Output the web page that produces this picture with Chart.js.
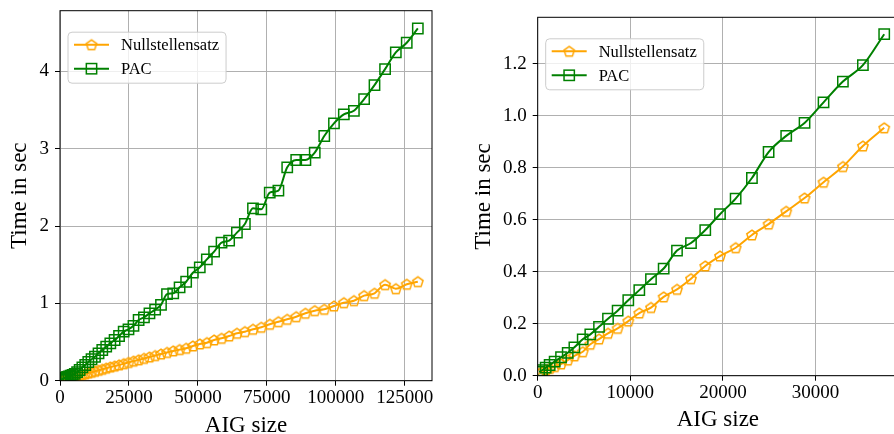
<!DOCTYPE html>
<html>
<head>
<meta charset="utf-8">
<script src="https://cdn.jsdelivr.net/npm/chart.js@4.4.1/dist/chart.umd.min.js"></script>
<style>
  html, body { margin: 0; padding: 0; background: #fff; width: 894px; height: 434px; overflow: hidden; position: relative; }
  canvas { position: absolute; top: -10px; }
  #left { left: 0; }
  #right { left: 447px; }
</style>
</head>
<body>
<canvas id="left" width="447" height="470"></canvas>
<canvas id="right" width="470" height="470"></canvas>
<script>
// --- DATA: left panel (all benchmarks) ---
const leftSizes = [127, 285, 507, 792, 1140, 1552, 2028, 2566, 3168, 3833, 4562, 5354, 6209, 7128, 8110, 9156,
  10264, 11436, 12672, 13971, 15333, 16759, 18248, 19800, 21416, 23095, 24837, 26643, 28512, 30444, 32440, 34499,
  36622, 38808, 41057, 43370, 45746, 48185, 50688, 53254, 55884, 58577, 61332, 64152, 67035, 69981, 72990, 76064,
  79200, 82400, 85663, 88989, 92379, 95832, 99348, 102928, 106572, 110278, 114048, 117881, 121778, 125738, 129761];
const leftNull = [0.002, 0.003, 0.005, 0.008, 0.011, 0.015, 0.020, 0.025, 0.030, 0.037, 0.044, 0.052, 0.060, 0.069, 0.078, 0.088,
  0.099, 0.110, 0.122, 0.135, 0.148, 0.162, 0.177, 0.189, 0.204, 0.220, 0.236, 0.253, 0.270, 0.288, 0.306, 0.325,
  0.345, 0.365, 0.385, 0.402, 0.419, 0.449, 0.475, 0.492, 0.527, 0.548, 0.578, 0.613, 0.634, 0.665, 0.691, 0.730,
  0.763, 0.794, 0.828, 0.872, 0.906, 0.923, 0.966, 1.009, 1.035, 1.100, 1.131, 1.242, 1.190, 1.247, 1.281];
const leftPac = [0.010, 0.012, 0.016, 0.020, 0.026, 0.033, 0.040, 0.048, 0.056, 0.066, 0.076, 0.088, 0.112, 0.138, 0.173, 0.203,
  0.242, 0.277, 0.310, 0.354, 0.397, 0.440, 0.483, 0.526, 0.578, 0.634, 0.665, 0.710, 0.785, 0.820, 0.870, 0.920,
  0.980, 1.120, 1.130, 1.208, 1.280, 1.397, 1.467, 1.570, 1.669, 1.785, 1.811, 1.915, 2.027, 2.230, 2.217, 2.432,
  2.458, 2.760, 2.855, 2.855, 2.950, 3.165, 3.328, 3.444, 3.491, 3.642, 3.823, 4.030, 4.246, 4.371, 4.556];
const leftXTicks = [0, 25000, 50000, 75000, 100000, 125000];
const leftYTicks = [0, 1, 2, 3, 4];

// --- DATA: right panel ---
const rightSizes = [150, 470, 860, 1290, 1830, 2520, 3240, 3960, 4860, 5680, 6620, 7590, 8630, 9780, 10970,
  12230, 13600, 15040, 16550, 18090, 19680, 21370, 23130, 24930, 26830, 28810, 30860, 32950, 35110, 37410];
const rightNull = [0.008, 0.015, 0.022, 0.028, 0.035, 0.045, 0.060, 0.076, 0.092, 0.121, 0.141, 0.163, 0.182, 0.210, 0.241,
  0.262, 0.303, 0.332, 0.373, 0.422, 0.460, 0.492, 0.541, 0.583, 0.632, 0.683, 0.744, 0.804, 0.883, 0.953];
const rightPac = [0.015, 0.021, 0.031, 0.041, 0.054, 0.071, 0.088, 0.109, 0.140, 0.159, 0.188, 0.219, 0.250, 0.290, 0.329,
  0.371, 0.412, 0.481, 0.510, 0.560, 0.621, 0.681, 0.760, 0.860, 0.922, 0.972, 1.051, 1.131, 1.194, 1.313];
const rightXTicks = [0, 10000, 20000, 30000];
const rightYTicks = [0, 0.2, 0.4, 0.6, 0.8, 1.0, 1.2];

const FONT = "'Liberation Serif', 'Times New Roman', serif";
const ORANGE = '#ffa500', GREEN = '#008000';

// hollow pentagon marker (no built-in pentagon in chart.js)
function pentagon(color) {
  const c = document.createElement('canvas');
  c.width = 16; c.height = 16;
  const g = c.getContext('2d');
  g.strokeStyle = color; g.lineWidth = 1.5;
  g.beginPath();
  for (let k = 0; k < 5; k++) {
    const a = -Math.PI / 2 + k * 2 * Math.PI / 5;
    const px = 8 + 5.4 * Math.cos(a), py = 8.5 + 5.4 * Math.sin(a);
    k ? g.lineTo(px, py) : g.moveTo(px, py);
  }
  g.closePath(); g.stroke();
  return c;
}
const pent = pentagon(ORANGE);

// axes frame + matplotlib-like legend box
const frameLegend = {
  id: 'frameLegend',
  afterDatasetsDraw(chart, args, opts) {
    const ctx = chart.ctx, ca = chart.chartArea;
    ctx.save();
    ctx.strokeStyle = '#000'; ctx.lineWidth = 1;
    ctx.strokeRect(ca.left, ca.top, ca.right - ca.left, ca.bottom - ca.top);

    ctx.font = opts.size + 'px ' + FONT;
    const sets = chart.data.datasets;
    const tw = Math.max(...sets.map(d => ctx.measureText(d.label).width));
    const bx = ca.left + 8, by = ca.top + 21.5, bw = 53 + tw + 7, bh = 51;
    ctx.beginPath();
    ctx.roundRect(bx, by, bw, bh, 4);
    ctx.fillStyle = 'rgba(255,255,255,0.8)'; ctx.fill();
    ctx.strokeStyle = '#cccccc'; ctx.lineWidth = 1; ctx.stroke();

    sets.forEach((d, i) => {
      const cy = by + 12.5 + i * 24;
      ctx.strokeStyle = d.borderColor; ctx.lineWidth = 2;
      ctx.beginPath(); ctx.moveTo(bx + 6, cy); ctx.lineTo(bx + 41, cy); ctx.stroke();
      const mx = bx + 23.5;
      if (d.pointStyle === 'rect') {
        const s = d.pointRadius * Math.SQRT1_2;
        ctx.lineWidth = d.pointBorderWidth;
        ctx.strokeRect(mx - s, cy - s, 2 * s, 2 * s);
      } else {
        ctx.drawImage(d.pointStyle, mx - 8, cy - 8);
      }
      ctx.fillStyle = '#000'; ctx.textBaseline = 'middle'; ctx.textAlign = 'left';
      ctx.fillText(d.label, bx + 53, cy + 1);
    });
    ctx.restore();
  }
};

function makeDatasets(xs, nul, pac) {
  return [
    { label: 'Nullstellensatz', data: xs.map((x, i) => ({ x, y: nul[i] })),
      borderColor: ORANGE, borderWidth: 2, pointStyle: pent, pointRadius: 5,
      pointBackgroundColor: 'rgba(0,0,0,0)', cubicInterpolationMode: 'monotone', order: 2 },
    { label: 'PAC', data: xs.map((x, i) => ({ x, y: pac[i] })),
      borderColor: GREEN, borderWidth: 2, pointStyle: 'rect', pointRadius: 7.3, pointBorderWidth: 1.5,
      pointBackgroundColor: 'rgba(0,0,0,0)', cubicInterpolationMode: 'monotone', order: 1 }
  ];
}

function makeOptions(c) {
  const tickFont = { family: FONT, size: 19 };
  const titleFont = { family: FONT, size: 23 };
  const grid = { color: '#b0b0b0', lineWidth: 1, tickColor: '#000', tickLength: 5, tickWidth: 1 };
  return {
    responsive: false, animation: false, events: [],
    layout: { autoPadding: false, padding: { top: c.padTop, right: c.padRight, left: 0, bottom: 0 } },
    plugins: { legend: { display: false }, tooltip: { enabled: false }, frameLegend: { size: 16.5 } },
    scales: {
      x: {
        type: 'linear', min: 0, max: c.xMax,
        afterBuildTicks: s => { s.ticks = c.xTicks.map(v => ({ value: v })); },
        afterFit: s => { s.height = c.xAxisH; },
        ticks: { autoSkip: false, maxRotation: 0, padding: 1, color: '#000', font: tickFont, callback: v => String(v) },
        grid, border: { display: false },
        title: { display: true, text: 'AIG size', color: '#000', font: titleFont, padding: { top: 0, bottom: c.xTitlePad } }
      },
      y: {
        type: 'linear', min: 0, max: c.yMax,
        afterBuildTicks: s => { s.ticks = c.yTicks.map(v => ({ value: v })); },
        afterFit: s => { s.width = c.yAxisW; },
        ticks: { autoSkip: false, padding: 6, color: '#000', font: tickFont, callback: c.yFmt },
        grid, border: { display: false },
        title: { display: true, text: 'Time in sec', color: '#000', font: titleFont, padding: { top: c.yTitlePad, bottom: 0 } }
      }
    }
  };
}

new Chart(document.getElementById('left'), {
  type: 'line',
  data: { datasets: makeDatasets(leftSizes, leftNull, leftPac) },
  options: makeOptions({ xMax: 134900, yMax: 4.786, xTicks: leftXTicks, yTicks: leftYTicks, yFmt: v => String(v),
    padTop: 20.7, padRight: 15, xAxisH: 79.3, yAxisW: 60, xTitlePad: 20, yTitlePad: 6 }),
  plugins: [frameLegend]
});

new Chart(document.getElementById('right'), {
  type: 'line',
  data: { datasets: makeDatasets(rightSizes, rightNull, rightPac) },
  options: makeOptions({ xMax: 38900, yMax: 1.378, xTicks: rightXTicks, yTicks: rightYTicks, yFmt: v => v.toFixed(1),
    padTop: 27.3, padRight: 19, xAxisH: 84.3, yAxisW: 90.7, xTitlePad: 26, yTitlePad: 23 }),
  plugins: [frameLegend]
});
</script>
</body>
</html>
